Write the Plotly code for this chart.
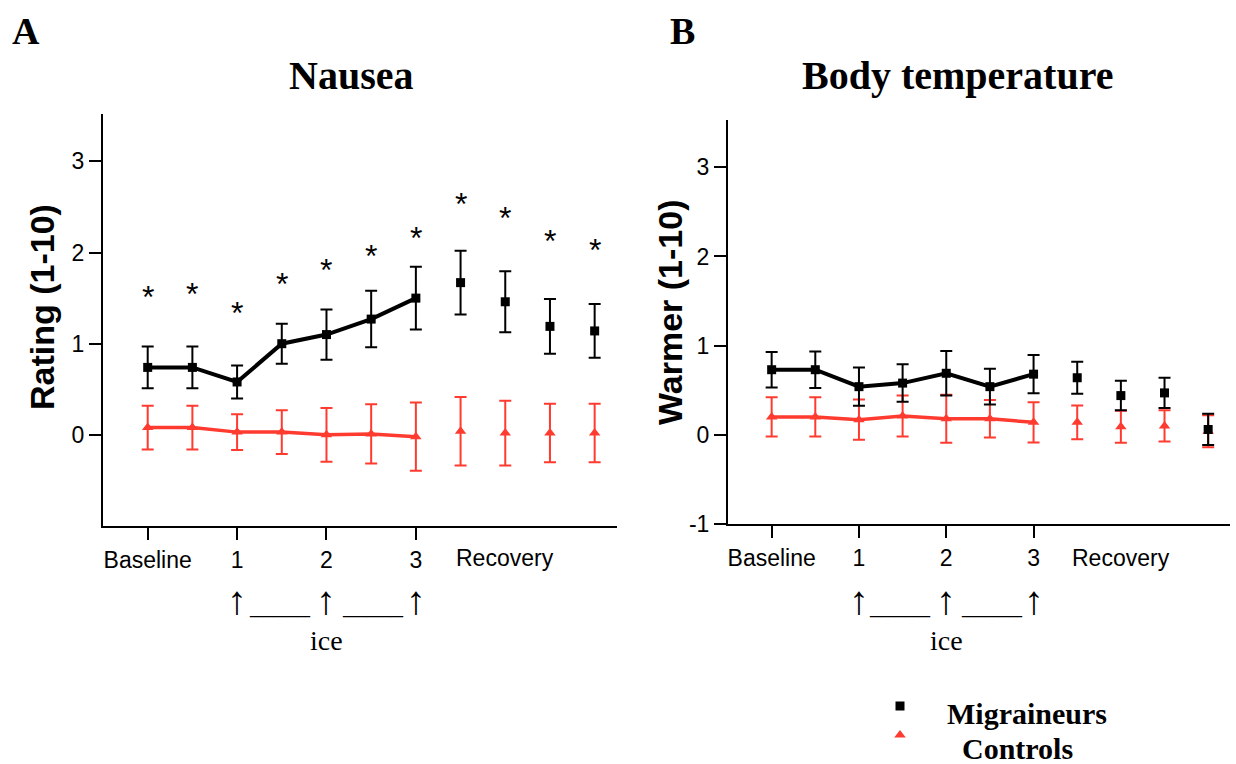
import plotly.graph_objects as go

# ---- data -------------------------------------------------------------
time_idx = list(range(11))          # 0-1 baseline, 2-6 ice phase, 7-10 recovery
tick_pos = [0, 2, 4, 6]
tick_text = ["Baseline", "1", "2", "3"]

nausea_mig = [0.74, 0.74, 0.58, 1.00, 1.10, 1.27, 1.50, 1.67, 1.46, 1.19, 1.14]
nausea_mig_se = [0.23, 0.23, 0.18, 0.22, 0.275, 0.31, 0.345, 0.35, 0.335, 0.30, 0.295]
nausea_ctl = [0.08, 0.08, 0.03, 0.03, 0.00, 0.01, -0.02, 0.04, 0.02, 0.02, 0.02]
nausea_ctl_se = [0.24, 0.24, 0.195, 0.24, 0.295, 0.325, 0.375, 0.375, 0.355, 0.32, 0.32]
nausea_star = [1.59, 1.62, 1.41, 1.73, 1.89, 2.04, 2.24, 2.61, 2.46, 2.20, 2.10]

temp_mig = [0.73, 0.73, 0.54, 0.58, 0.69, 0.54, 0.68, 0.64, 0.44, 0.47, 0.06]
temp_mig_se = [0.20, 0.205, 0.215, 0.21, 0.25, 0.20, 0.215, 0.18, 0.165, 0.17, 0.175]
temp_ctl = [0.20, 0.20, 0.17, 0.21, 0.18, 0.18, 0.14, 0.14, 0.09, 0.10, 0.04]
temp_ctl_se = [0.22, 0.22, 0.225, 0.23, 0.27, 0.21, 0.225, 0.19, 0.18, 0.175, 0.18]

BLACK = "#000000"
RED = "#FF3B30"
SANS = "Liberation Sans, Arial, Helvetica, sans-serif"
SERIF = "Liberation Serif, Times New Roman, serif"
W, H = 1236, 764
N_LINE = 7   # points joined by a line (baseline + ice)


def px(x):
    return x / W


def py(y):
    return 1 - y / H


fig = go.Figure()


def add_group(xa, ya, mean, se, color, symbol, size, lw, legend_id):
    err = dict(type="data", thickness=2, width=6, color=color)
    fig.add_trace(go.Scatter(
        x=time_idx[:N_LINE], y=mean[:N_LINE],
        error_y=dict(err, array=se[:N_LINE]),
        mode="lines+markers", line=dict(color=color, width=lw),
        marker=dict(symbol=symbol, size=size, color=color),
        xaxis=xa, yaxis=ya, showlegend=False, hoverinfo="skip"))
    fig.add_trace(go.Scatter(
        x=time_idx[N_LINE:], y=mean[N_LINE:],
        error_y=dict(err, array=se[N_LINE:]),
        mode="markers",
        marker=dict(symbol=symbol, size=size, color=color),
        xaxis=xa, yaxis=ya, name=" ",
        showlegend=legend_id is not None,
        legend=legend_id or "legend", hoverinfo="skip"))


# panel A: nausea
add_group("x", "y", nausea_ctl, nausea_ctl_se, RED, "triangle-up", 10, 3.5, None)
add_group("x", "y", nausea_mig, nausea_mig_se, BLACK, "square", 9, 4, None)
# panel B: body temperature (these also supply the legend keys)
add_group("x2", "y2", temp_ctl, temp_ctl_se, RED, "triangle-up", 10, 3.5, "legend2")
add_group("x2", "y2", temp_mig, temp_mig_se, BLACK, "square", 9, 4, "legend")

axis_common = dict(
    showline=True, linecolor=BLACK, linewidth=2, showgrid=False,
    zeroline=False, ticks="outside", ticklen=12, tickwidth=1.5,
    tickcolor=BLACK, tickfont=dict(family=SANS, size=23, color=BLACK),
    automargin=False,
)

key_legend = dict(xanchor="left", yanchor="middle", font=dict(size=8),
                  bgcolor="rgba(0,0,0,0)", itemwidth=30,
                  xref="container", yref="container")

fig.update_layout(
    width=W, height=H,
    margin=dict(l=0, r=0, t=0, b=0, autoexpand=False),
    paper_bgcolor="white", plot_bgcolor="white",
    xaxis=dict(axis_common, domain=[px(103), px(617)], range=[-1, 10.5],
               tickvals=tick_pos, ticktext=tick_text, anchor="y"),
    yaxis=dict(axis_common, domain=[py(526), py(114)], range=[-1, 3.52],
               tickvals=[0, 1, 2, 3], anchor="x"),
    xaxis2=dict(axis_common, domain=[px(728), px(1230)], range=[-1, 10.5],
                tickvals=tick_pos, ticktext=tick_text, anchor="y2"),
    yaxis2=dict(axis_common, domain=[py(524), py(120)], range=[-1, 3.53],
                tickvals=[-1, 0, 1, 2, 3], ticktext=["-1", "0", "1", "2", "3"],
                anchor="x2"),
    showlegend=True,
    legend=dict(key_legend, x=px(880), y=py(706)),
    legend2=dict(key_legend, x=px(880), y=py(735)),
)

ann = []
# significance asterisks above the nausea points
for t, s in zip(time_idx, nausea_star):
    ann.append(dict(text="*", x=t, y=s, xref="x", yref="y", yshift=-7,
                    xanchor="center", yanchor="middle", showarrow=False,
                    font=dict(family=SANS, size=32, color=BLACK)))
# panel letters and titles
for txt, x in (("A", 10), ("B", 668)):
    ann.append(dict(text=f"<b>{txt}</b>", x=px(x), y=py(8), xref="paper",
                    yref="paper", xanchor="left", yanchor="top",
                    showarrow=False,
                    font=dict(family=SERIF, size=38, color=BLACK)))
for txt, x in (("Nausea", 351), ("Body temperature", 958)):
    ann.append(dict(text=f"<b>{txt}</b>", x=px(x), y=py(75), xref="paper",
                    yref="paper", xanchor="center", yanchor="middle",
                    showarrow=False,
                    font=dict(family=SERIF, size=40, color=BLACK)))
# y-axis titles
for txt, x, y in (("Rating (1-10)", 42, 307), ("Warmer (1-10)", 670, 313)):
    ann.append(dict(text=f"<b>{txt}</b>", x=px(x), y=py(y), xref="paper",
                    yref="paper", xanchor="center", yanchor="middle",
                    textangle=-90, showarrow=False,
                    font=dict(family=SANS, size=34, color=BLACK)))
# recovery label and ice-application markers under each x axis
for xr in ("x", "x2"):
    ann.append(dict(text="Recovery", x=8, y=py(558), xref=xr, yref="paper",
                    xanchor="center", yanchor="middle", showarrow=False,
                    font=dict(family=SANS, size=23, color=BLACK)))
    for t in tick_pos[1:]:
        ann.append(dict(text="\u2191", x=t, y=py(600), xref=xr, yref="paper",
                        xanchor="center", yanchor="middle", showarrow=False,
                        font=dict(family=SERIF, size=40, color=BLACK)))
    for t in (2.95, 5.05):
        ann.append(dict(text="_____", x=t, y=py(606), xref=xr, yref="paper",
                        xanchor="center", yanchor="middle", showarrow=False,
                        font=dict(family=SERIF, size=24, color=BLACK)))
    ann.append(dict(text="ice", x=4, y=py(640), xref=xr, yref="paper",
                    xanchor="center", yanchor="middle", showarrow=False,
                    font=dict(family=SERIF, size=28, color=BLACK)))
# legend labels
ann.append(dict(text="<b>Migraineurs</b>", x=px(945), y=py(713), xref="paper",
                yref="paper", xanchor="left", yanchor="middle",
                showarrow=False, font=dict(family=SERIF, size=30, color=BLACK)))
ann.append(dict(text="<b>Controls</b>", x=px(960), y=py(748), xref="paper",
                yref="paper", xanchor="left", yanchor="middle",
                showarrow=False, font=dict(family=SERIF, size=30, color=BLACK)))

fig.update_layout(annotations=ann)
fig.write_html("out.html")
